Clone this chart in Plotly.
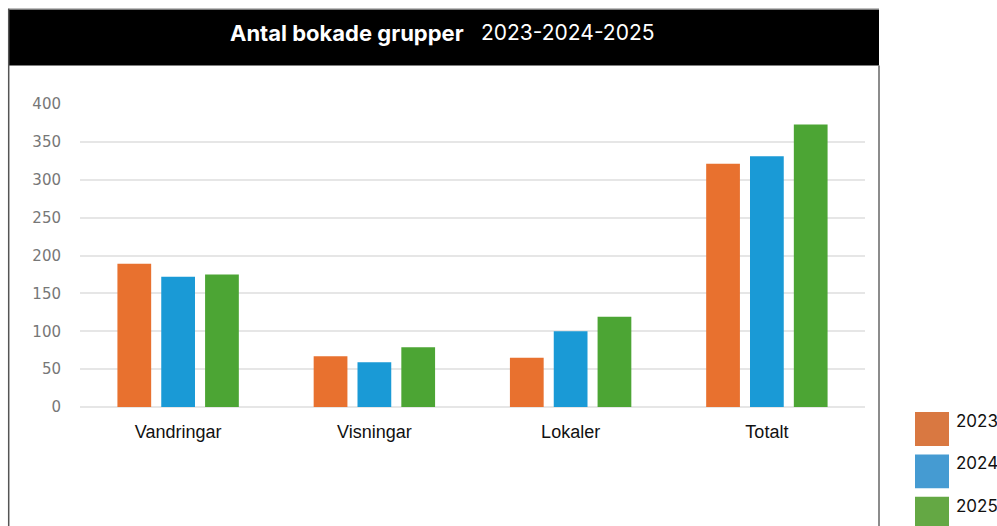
import plotly.graph_objects as go

categories = ["Vandringar", "Visningar", "Lokaler", "Totalt"]
years = ["2023", "2024", "2025"]
values_2023 = [189, 67, 65, 321]
values_2024 = [172, 59, 100, 331]
values_2025 = [175, 79, 119, 373]
y_ticks = [0, 50, 100, 150, 200, 250, 300, 350, 400]

bar_colors = ["#E8712F", "#1A9AD6", "#4CA534"]
legend_colors = ["#D97841", "#459BD2", "#64A844"]

W, H = 997, 526
# plot area in page pixels: x 80..865, y 103.5..407
L = 80
R = W - 865
T = 103.5
B = H - 407
PW, PH = W - L - R, H - T - B


def px(x):
    return (x - L) / PW


def py(y):
    return (H - B - y) / PH


fig = go.Figure()
for yr, vals, col in zip(years, [values_2023, values_2024, values_2025], bar_colors):
    fig.add_trace(go.Bar(x=categories, y=vals, name=yr, marker=dict(color=col, line=dict(width=0)),
                         showlegend=False))

shapes = []
# title bar
shapes.append(dict(type="rect", xref="paper", yref="paper", x0=px(8), x1=px(879), y0=py(65), y1=py(8),
                   fillcolor="black", line=dict(width=0), layer="below"))
# top light line
shapes.append(dict(type="line", xref="paper", yref="paper", x0=px(8), x1=px(879), y0=py(8.5), y1=py(8.5),
                   line=dict(color="#BBBBBB", width=1)))
# left border
shapes.append(dict(type="line", xref="paper", yref="paper", x0=px(8.7), x1=px(8.7), y0=py(8), y1=py(530),
                   line=dict(color="#555555", width=1.5)))
# right border
shapes.append(dict(type="line", xref="paper", yref="paper", x0=px(879), x1=px(879), y0=py(65), y1=py(530),
                   line=dict(color="#666666", width=1.5)))

title_font = "Inter, Roboto, sans-serif"
annotations = [
    dict(xref="paper", yref="paper", x=px(466), y=py(32), xanchor="right", yanchor="middle",
         text="<b>Antal bokade grupper</b>", showarrow=False,
         font=dict(family=title_font, size=22, color="white")),
    dict(xref="paper", yref="paper", x=px(479), y=py(32), xanchor="left", yanchor="middle",
         text="2023-2024-2025", showarrow=False,
         font=dict(family=title_font, size=21, color="white")),
]

# legend
for i, (yr, col) in enumerate(zip(years, legend_colors)):
    top = 412 + 42.5 * i
    shapes.append(dict(type="rect", xref="paper", yref="paper", x0=px(915), x1=px(949), y0=py(top + 34),
                       y1=py(top), fillcolor=col, line=dict(width=0)))
    annotations.append(dict(xref="paper", yref="paper", x=px(954), y=py(top + 9), xanchor="left",
                            yanchor="middle", text=yr, showarrow=False,
                            font=dict(family=title_font, size=17, color="#111111")))

fig.update_layout(
    width=W, height=H,
    margin=dict(l=L, r=R, t=T, b=B),
    paper_bgcolor="white", plot_bgcolor="white",
    barmode="group", bargap=0.33, bargroupgap=0.23,
    shapes=shapes, annotations=annotations,
    showlegend=False,
    xaxis=dict(showgrid=False, showline=False, zeroline=False, ticks="",
               tickfont=dict(family="Liberation Sans, Arial, sans-serif", size=18, color="#111111"),
               ticklabelstandoff=12),
    yaxis=dict(range=[0, 400], tickvals=y_ticks, showgrid=True, gridcolor="#E6E6E6", gridwidth=1.5,
               zeroline=True, zerolinecolor="#E6E6E6", zerolinewidth=1.5, showline=False,
               tickfont=dict(family="DejaVu Sans, sans-serif", size=15, color="#777777"),
               ticklabelstandoff=18),
)

fig.write_html("out.html", config={"displayModeBar": False},
               post_script="document.body.style.margin='0';document.body.style.overflow='hidden';")
